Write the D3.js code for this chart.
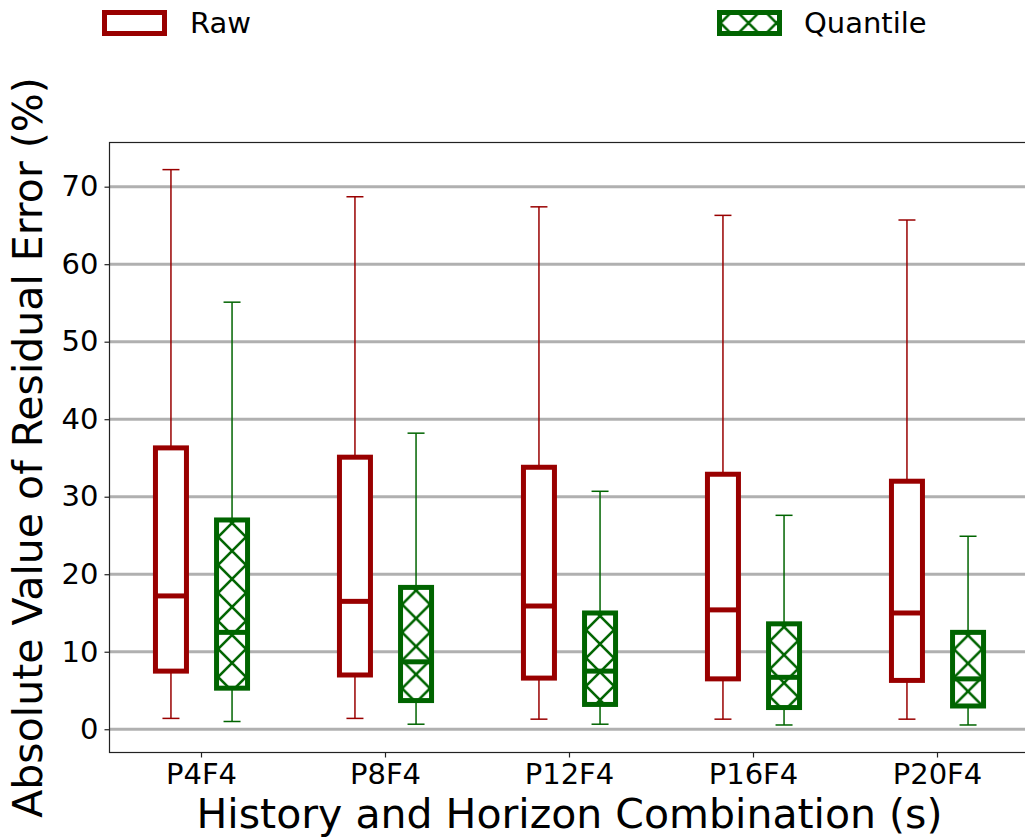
<!DOCTYPE html>
<html>
<head>
<meta charset="utf-8">
<script src="https://cdn.jsdelivr.net/npm/d3@7"></script>
<style>
  html, body { margin: 0; padding: 0; background: #fff; }
  svg { display: block; font-family: "DejaVu Sans", sans-serif; }
</style>
</head>
<body>
<svg id="chart" width="1025" height="837"></svg>
<script>
// History/horizon combinations on the x axis
const categories = ["P4F4", "P8F4", "P12F4", "P16F4", "P20F4"];

// Box statistics for the raw residual error (%)
const rawMin = [1.4, 1.4, 1.3, 1.3, 1.3];
const rawQ1  = [7.5, 7.0, 6.6, 6.5, 6.3];
const rawMed = [17.2, 16.5, 15.9, 15.4, 15.0];
const rawQ3  = [36.3, 35.1, 33.8, 32.9, 32.0];
const rawMax = [72.2, 68.7, 67.4, 66.3, 65.7];

// Box statistics for the quantile-normalised residual error (%)
const quantMin = [1.0, 0.65, 0.65, 0.55, 0.55];
const quantQ1  = [5.3, 3.7, 3.2, 2.8, 3.0];
const quantMed = [12.5, 8.7, 7.5, 6.7, 6.5];
const quantQ3  = [27.0, 18.3, 15.0, 13.6, 12.5];
const quantMax = [55.1, 38.2, 30.7, 27.6, 24.9];

const yTicks = [0, 10, 20, 30, 40, 50, 60, 70];
const seriesNames = ["Raw", "Quantile"];

const RED = "#990000";
const GREEN = "#006400";

const plot = { left: 109.5, right: 1029.5, top: 142.5, bottom: 752.5 };

const svg = d3.select("#chart");
const defs = svg.append("defs");

const x = d3.scaleBand().domain(categories).range([plot.left, plot.right]).padding(0);
const y = d3.scaleLinear().domain([-3.0, 75.7]).range([plot.bottom, plot.top]);

const bw = x.bandwidth();
const offset = bw * 0.166;
const boxW = 31;
const capW = 17;
const center = c => x(c) + bw / 2;

// gridlines
svg.append("g").selectAll("line").data(yTicks).join("line")
  .attr("x1", plot.left).attr("x2", plot.right)
  .attr("y1", d => y(d)).attr("y2", d => y(d))
  .attr("stroke", "#b0b0b0").attr("stroke-width", 3);

// diagonal cross-hatch pattern, anchored at a given point
function makeHatch(id, cx, cy, color) {
  const s = 28;
  const p = defs.append("pattern")
    .attr("id", id)
    .attr("patternUnits", "userSpaceOnUse")
    .attr("width", s).attr("height", s)
    .attr("x", cx - s / 2).attr("y", cy - s / 2);
  p.append("rect").attr("width", s).attr("height", s).attr("fill", "#fff");
  p.append("path")
    .attr("d", `M${-s/2},${-s/2}L${s*1.5},${s*1.5}M${s*1.5},${-s/2}L${-s/2},${s*1.5}`)
    .attr("stroke", color).attr("stroke-width", 2.6).attr("fill", "none");
  return `url(#${id})`;
}

function drawBoxes(stats, dx, color, hatched, key) {
  const g = svg.append("g");
  categories.forEach((c, i) => {
    const cx = center(c) + dx;
    const lo = stats.min[i], q1 = stats.q1[i], med = stats.med[i], q3 = stats.q3[i], hi = stats.max[i];
    // whiskers
    g.append("line").attr("x1", cx).attr("x2", cx).attr("y1", y(q3)).attr("y2", y(hi))
      .attr("stroke", color).attr("stroke-width", 1.5);
    g.append("line").attr("x1", cx).attr("x2", cx).attr("y1", y(q1)).attr("y2", y(lo))
      .attr("stroke", color).attr("stroke-width", 1.5);
    // caps
    [lo, hi].forEach(v => {
      g.append("line").attr("x1", cx - capW / 2).attr("x2", cx + capW / 2)
        .attr("y1", y(v)).attr("y2", y(v))
        .attr("stroke", color).attr("stroke-width", 1.5);
    });
    const fill = hatched ? makeHatch(`hatch-${key}-${i}`, cx, y(q3) + 3, color) : "#fff";
    g.append("rect")
      .attr("x", cx - boxW / 2).attr("width", boxW)
      .attr("y", y(q3)).attr("height", y(q1) - y(q3))
      .attr("fill", fill).attr("stroke", color).attr("stroke-width", 5);
    g.append("line").attr("x1", cx - boxW / 2).attr("x2", cx + boxW / 2)
      .attr("y1", y(med)).attr("y2", y(med))
      .attr("stroke", color).attr("stroke-width", 5);
  });
}

drawBoxes({ min: rawMin, q1: rawQ1, med: rawMed, q3: rawQ3, max: rawMax }, -offset, RED, false, "raw");
drawBoxes({ min: quantMin, q1: quantQ1, med: quantMed, q3: quantQ3, max: quantMax }, offset, GREEN, true, "quant");

// spines
svg.append("rect")
  .attr("x", plot.left).attr("y", plot.top)
  .attr("width", plot.right - plot.left).attr("height", plot.bottom - plot.top)
  .attr("fill", "none").attr("stroke", "#222").attr("stroke-width", 1.2);

// y axis
const yAxis = svg.append("g")
  .attr("transform", `translate(${plot.left},0)`)
  .call(d3.axisLeft(y).tickValues(yTicks).tickSize(5).tickPadding(6).tickFormat(d3.format("d")));
yAxis.select(".domain").remove();
yAxis.selectAll("line").attr("stroke", "#222").attr("stroke-width", 1.2);
yAxis.selectAll("text").attr("font-size", 29).attr("font-family", "DejaVu Sans").attr("fill", "#000");

// x axis
const xAxis = svg.append("g")
  .attr("transform", `translate(0,${plot.bottom})`)
  .call(d3.axisBottom(x).tickSize(5).tickPadding(6));
xAxis.select(".domain").remove();
xAxis.selectAll("line").attr("stroke", "#222").attr("stroke-width", 1.2);
xAxis.selectAll("text").attr("font-size", 29).attr("font-family", "DejaVu Sans").attr("fill", "#000");

// axis titles
svg.append("text")
  .attr("x", (plot.left + plot.right) / 2).attr("y", 828)
  .attr("text-anchor", "middle").attr("font-size", 41).attr("fill", "#000")
  .text("History and Horizon Combination (s)");

svg.append("text")
  .attr("transform", `translate(42,${(plot.top + plot.bottom) / 2}) rotate(-90)`)
  .attr("text-anchor", "middle").attr("font-size", 41).attr("fill", "#000")
  .text("Absolute Value of Residual Error (%)");

// legend
const legendItems = [
  { name: seriesNames[0], color: RED, hatched: false, px: 104.5, tx: 190 },
  { name: seriesNames[1], color: GREEN, hatched: true, px: 719.5, tx: 804 }
];
legendItems.forEach((d, i) => {
  const fill = d.hatched ? makeHatch(`hatch-legend-${i}`, d.px + 15, 12 + 25, d.color) : "#fff";
  svg.append("rect")
    .attr("x", d.px).attr("y", 12.5).attr("width", 60).attr("height", 21)
    .attr("fill", fill).attr("stroke", d.color).attr("stroke-width", 5);
  svg.append("text")
    .attr("x", d.tx).attr("y", 33)
    .attr("font-size", 29).attr("fill", "#000")
    .text(d.name);
});
</script>
</body>
</html>
